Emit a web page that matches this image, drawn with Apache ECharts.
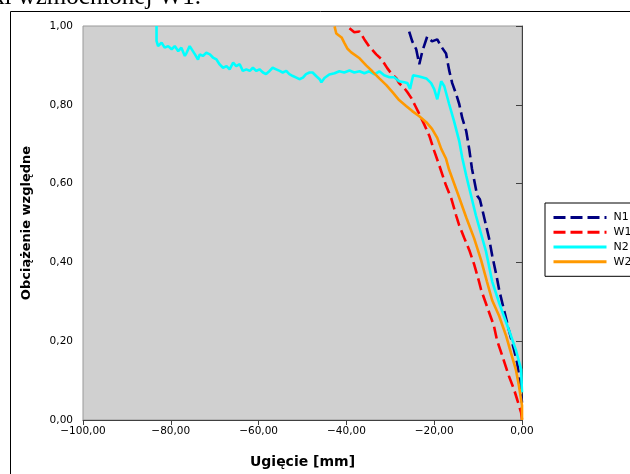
<!DOCTYPE html>
<html>
<head>
<meta charset="utf-8">
<script src="https://cdn.jsdelivr.net/npm/echarts@6/dist/echarts.min.js"></script>
<style>
  html, body { margin: 0; padding: 0; background: #ffffff; }
  #chart { width: 630px; height: 474px; }
</style>
</head>
<body>
<div id="chart"></div>
<script>
// Deflection [mm] vs relative load, pairs of [x, y]
const seriesNames = ['N1', 'W1', 'N2', 'W2'];

const n1Points = [
  [-25.7, 0.986], [-25.0, 0.961], [-24.1, 0.941], [-23.4, 0.903], [-22.7, 0.936],
  [-21.6, 0.973], [-20.5, 0.961], [-19.3, 0.966], [-18.4, 0.948], [-17.3, 0.930],
  [-16.6, 0.888], [-15.9, 0.855], [-15.0, 0.827], [-14.3, 0.802], [-13.6, 0.766],
  [-12.7, 0.733], [-12.0, 0.686], [-11.4, 0.638], [-10.2, 0.569], [-9.6, 0.560],
  [-9.1, 0.537], [-8.2, 0.494], [-7.5, 0.461], [-6.8, 0.418], [-5.7, 0.360],
  [-5.2, 0.330], [-4.1, 0.279], [-3.0, 0.229], [-1.8, 0.178], [-1.1, 0.145],
  [-0.45, 0.095], [0.0, 0.044]
];

const w1Points = [
  [-39.3, 0.994], [-38.2, 0.984], [-37.0, 0.986], [-35.9, 0.966], [-34.8, 0.948],
  [-33.2, 0.928], [-32.0, 0.916], [-30.7, 0.893], [-29.8, 0.880], [-28.6, 0.867],
  [-28.0, 0.855], [-26.8, 0.842], [-26.1, 0.832], [-25.2, 0.817], [-24.3, 0.797],
  [-23.4, 0.777], [-22.3, 0.751], [-21.1, 0.721], [-20.0, 0.683], [-18.9, 0.648],
  [-17.3, 0.595], [-16.1, 0.562], [-15.0, 0.519], [-14.3, 0.494], [-13.2, 0.463],
  [-12.0, 0.431], [-10.9, 0.395], [-9.8, 0.352], [-9.3, 0.330], [-8.0, 0.289],
  [-6.4, 0.239], [-5.7, 0.203], [-4.5, 0.163], [-3.0, 0.112], [-1.8, 0.077],
  [-1.1, 0.052], [-0.2, 0.019], [0.0, 0.001]
];

const n2Points = [
  [-83.25, 1.0], [-83.25, 0.962], [-82.9, 0.949], [-82.1, 0.958], [-81.4, 0.945],
  [-80.6, 0.949], [-79.8, 0.941], [-79.1, 0.949], [-78.3, 0.936], [-77.6, 0.945],
  [-76.8, 0.924], [-76.4, 0.932], [-75.7, 0.949], [-75.3, 0.945], [-74.5, 0.928],
  [-73.8, 0.915], [-73.4, 0.928], [-72.7, 0.924], [-71.9, 0.932], [-71.1, 0.928],
  [-70.4, 0.920], [-69.6, 0.915], [-68.9, 0.903], [-68.1, 0.894], [-67.3, 0.898],
  [-66.6, 0.890], [-65.8, 0.907], [-65.1, 0.898], [-64.3, 0.903], [-63.6, 0.886],
  [-62.8, 0.890], [-62.0, 0.886], [-61.3, 0.894], [-60.5, 0.886], [-59.8, 0.890],
  [-59.0, 0.882], [-58.3, 0.878], [-57.5, 0.886], [-56.8, 0.894], [-56.0, 0.890],
  [-55.2, 0.886], [-54.5, 0.882], [-53.7, 0.886], [-53.0, 0.878], [-52.2, 0.873],
  [-51.4, 0.869], [-50.7, 0.865], [-49.9, 0.869], [-49.2, 0.878], [-48.4, 0.882],
  [-47.7, 0.882], [-46.9, 0.873], [-46.1, 0.865], [-45.7, 0.857], [-45.0, 0.868],
  [-43.9, 0.877], [-42.7, 0.880], [-41.6, 0.885], [-40.5, 0.882], [-39.3, 0.887],
  [-38.2, 0.882], [-37.0, 0.885], [-35.9, 0.880], [-34.8, 0.885], [-33.6, 0.877],
  [-32.5, 0.885], [-31.4, 0.875], [-30.2, 0.870], [-29.1, 0.870], [-28.0, 0.860],
  [-26.8, 0.857], [-26.1, 0.855], [-25.5, 0.840], [-25.2, 0.835], [-24.8, 0.875],
  [-23.4, 0.872], [-21.8, 0.867], [-20.7, 0.855], [-20.0, 0.840], [-19.3, 0.814],
  [-18.4, 0.860], [-17.7, 0.847], [-16.6, 0.802], [-15.5, 0.759], [-14.3, 0.708],
  [-13.6, 0.665], [-12.7, 0.620], [-10.5, 0.519], [-8.2, 0.428], [-6.8, 0.352],
  [-5.2, 0.297], [-3.0, 0.229], [-1.4, 0.178], [-0.2, 0.128], [0.0, 0.070]
];

const w2Points = [
  [-42.7, 0.999], [-42.3, 0.981], [-41.1, 0.971], [-40.5, 0.958], [-39.8, 0.943],
  [-38.9, 0.933], [-37.0, 0.918], [-35.5, 0.900], [-34.1, 0.885], [-32.5, 0.867],
  [-30.9, 0.850], [-29.5, 0.832], [-28.0, 0.812], [-26.4, 0.797], [-25.0, 0.784],
  [-23.4, 0.771], [-21.8, 0.756], [-20.5, 0.739], [-19.3, 0.716], [-18.4, 0.688],
  [-17.3, 0.663], [-16.6, 0.635], [-14.8, 0.580], [-12.7, 0.514], [-10.9, 0.461],
  [-9.3, 0.405], [-8.0, 0.352], [-6.8, 0.304], [-5.2, 0.264], [-3.6, 0.213],
  [-2.5, 0.170], [-1.4, 0.128], [-0.7, 0.087], [0.0, 0.037], [0.0, 0.0]
];

const xTicks = { min: -100, max: 0, step: 20 };
const yTicks = { min: 0, max: 1, step: 0.2 };

const colors = ['#000080', '#ff0000', '#00ffff', '#ff9900'];
const dashes = [[12, 5], [12, 5], 'solid', 'solid'];
const pointSets = [n1Points, w1Points, n2Points, w2Points];

// Polish number format: comma decimal, real minus sign
function fmt(v) {
  const s = Math.abs(v).toFixed(2).replace('.', ',');
  return (v < 0 ? '\u2212' : '') + s;
}

const chart = echarts.init(document.getElementById('chart'), null, { renderer: 'canvas' });

chart.setOption({
  animation: false,
  backgroundColor: '#ffffff',
  textStyle: { fontFamily: 'DejaVu Sans' },
  graphic: [
    {
      type: 'text',
      x: 201, y: 10,
      style: {
        text: 'ugięcia belki wzmocnionej W1.',
        font: '25px "Liberation Serif"',
        fill: '#000000',
        align: 'right',
        verticalAlign: 'bottom'
      },
      z: 100
    },
    {
      type: 'rect',
      shape: { x: 10.5, y: 11.5, width: 700, height: 600 },
      style: { fill: null, stroke: '#000000', lineWidth: 1 },
      z: 100
    }
  ],
  grid: {
    left: 83, right: 108, top: 26, bottom: 52,
    show: true,
    backgroundColor: '#d0d0d0',
    borderColor: '#999999',
    borderWidth: 1
  },
  legend: {
    orient: 'vertical',
    left: 545, top: 203,
    padding: [9, 10, 9, 7],
    itemWidth: 53, itemHeight: 14, itemGap: 3.5,
    backgroundColor: '#ffffff',
    borderColor: '#000000', borderWidth: 1, borderRadius: 0,
    itemStyle: { opacity: 0 },
    lineStyle: { width: 3 },
    textStyle: { fontFamily: 'DejaVu Sans', fontSize: 11, color: '#000000', padding: [0, 0, 0, 2] },
    data: seriesNames
  },
  xAxis: {
    type: 'value',
    min: xTicks.min, max: xTicks.max, interval: xTicks.step,
    name: 'Ugięcie [mm]',
    nameLocation: 'middle',
    nameGap: 35,
    nameTextStyle: { fontFamily: 'DejaVu Sans', fontWeight: 'bold', fontSize: 14, color: '#000000' },
    axisLine: { show: true, lineStyle: { color: '#404040', width: 1 } },
    axisTick: { show: true, inside: false, length: 5, lineStyle: { color: '#404040' } },
    axisLabel: { formatter: fmt, color: '#000000', fontSize: 10.5, margin: 6 },
    splitLine: { show: false }
  },
  yAxis: {
    type: 'value',
    min: yTicks.min, max: yTicks.max, interval: yTicks.step,
    name: 'Obciążenie względne',
    nameLocation: 'middle',
    nameGap: 50,
    nameRotate: 90,
    nameTextStyle: { fontFamily: 'DejaVu Sans', fontWeight: 'bold', fontSize: 13, color: '#000000' },
    axisLine: { show: true, lineStyle: { color: '#404040', width: 1 } },
    axisTick: { show: true, inside: false, length: 6, lineStyle: { color: '#404040' } },
    axisLabel: { formatter: fmt, color: '#000000', fontSize: 10.5, margin: 10 },
    splitLine: { show: false }
  },
  series: seriesNames.map((name, i) => ({
    name: name,
    type: 'line',
    data: pointSets[i],
    showSymbol: false,
    symbol: 'none',
    clip: true,
    lineStyle: { color: colors[i], width: 2.6, type: dashes[i] },
    itemStyle: { color: colors[i] }
  }))
});
</script>
</body>
</html>
